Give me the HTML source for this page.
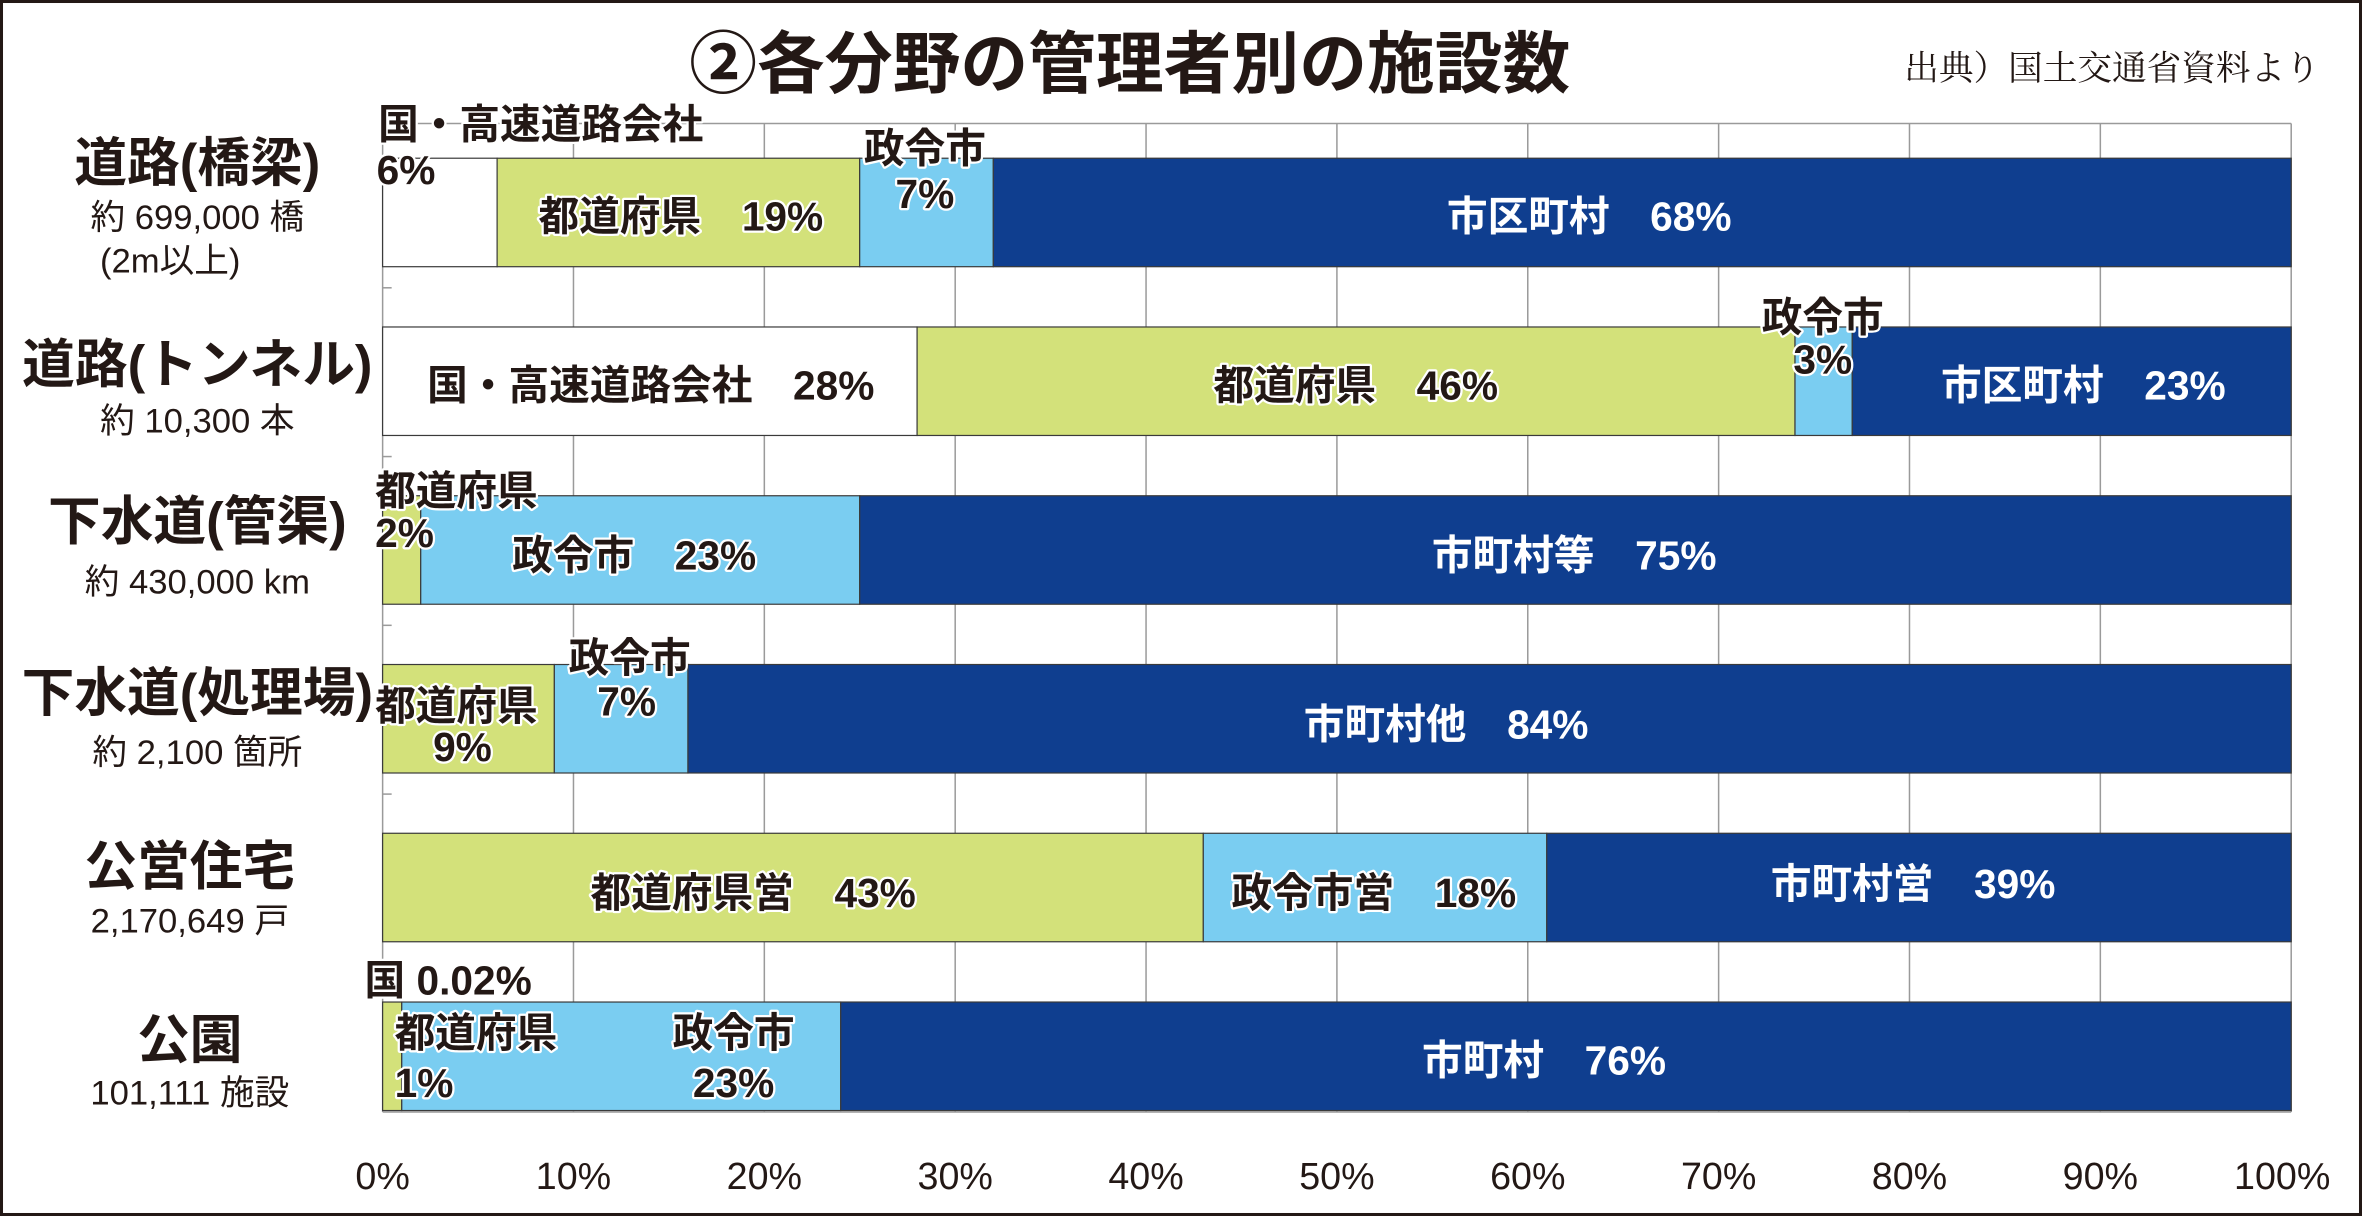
<!DOCTYPE html>
<html><head><meta charset="utf-8"><style>
html,body{margin:0;padding:0;background:#fff}
svg{display:block}
text{font-family:"Liberation Sans","Noto Sans CJK JP",sans-serif;fill:#231815}
.b{font-weight:bold}
.w{fill:#fff}
.h{stroke:#fff;stroke-width:3;paint-order:stroke;stroke-linejoin:round}
</style></head><body>
<svg width="2362" height="1216" viewBox="0 0 1568 807" preserveAspectRatio="none" xmlns="http://www.w3.org/2000/svg">
<rect x="1" y="1" width="1566" height="805" fill="#fff" stroke="#231815" stroke-width="2"/>
<text x="750" y="58" font-size="45" class="b" text-anchor="middle">②各分野の管理者別の施設数</text>
<text x="1540" y="53" font-size="23" text-anchor="end" style="font-family:'Liberation Serif','Noto Serif CJK SC',serif">出典）国土交通省資料より</text>
<g stroke="#9a9a9a" stroke-width="1">
<line x1="254" y1="82" x2="1521" y2="82"/>
<line x1="380.7" y1="82" x2="380.7" y2="738"/><line x1="507.4" y1="82" x2="507.4" y2="738"/>
<line x1="634.1" y1="82" x2="634.1" y2="738"/><line x1="760.8" y1="82" x2="760.8" y2="738"/>
<line x1="887.5" y1="82" x2="887.5" y2="738"/><line x1="1014.2" y1="82" x2="1014.2" y2="738"/>
<line x1="1140.9" y1="82" x2="1140.9" y2="738"/><line x1="1267.6" y1="82" x2="1267.6" y2="738"/>
<line x1="1394.3" y1="82" x2="1394.3" y2="738"/><line x1="1521" y1="82" x2="1521" y2="738"/>
<line x1="254" y1="738" x2="1521" y2="738"/><line x1="254" y1="82" x2="254" y2="738"/>
<line x1="254" y1="191" x2="260" y2="191"/><line x1="254" y1="303" x2="260" y2="303"/>
<line x1="254" y1="415" x2="260" y2="415"/><line x1="254" y1="527" x2="260" y2="527"/>
<line x1="254" y1="639" x2="260" y2="639"/>
</g>
<g stroke="#3a3a3a" stroke-width="0.8">
<rect x="254" y="105" width="76" height="72" fill="#fff"/>
<rect x="330" y="105" width="240.7" height="72" fill="#d3e17a"/>
<rect x="570.7" y="105" width="88.7" height="72" fill="#7acdf1"/>
<rect x="659.4" y="105" width="861.6" height="72" fill="#0f3e8f"/>

<rect x="254" y="217" width="354.8" height="72" fill="#fff"/>
<rect x="608.8" y="217" width="582.8" height="72" fill="#d3e17a"/>
<rect x="1191.6" y="217" width="38" height="72" fill="#7acdf1"/>
<rect x="1229.6" y="217" width="291.4" height="72" fill="#0f3e8f"/>

<rect x="254" y="329" width="25.3" height="72" fill="#d3e17a"/>
<rect x="279.3" y="329" width="291.4" height="72" fill="#7acdf1"/>
<rect x="570.7" y="329" width="950.3" height="72" fill="#0f3e8f"/>

<rect x="254" y="441" width="114" height="72" fill="#d3e17a"/>
<rect x="368" y="441" width="88.7" height="72" fill="#7acdf1"/>
<rect x="456.7" y="441" width="1064.3" height="72" fill="#0f3e8f"/>

<rect x="254" y="553" width="544.8" height="72" fill="#d3e17a"/>
<rect x="798.8" y="553" width="228" height="72" fill="#7acdf1"/>
<rect x="1026.8" y="553" width="494.2" height="72" fill="#0f3e8f"/>

<rect x="254" y="665" width="12.7" height="72" fill="#d3e17a"/>
<rect x="266.7" y="665" width="291.4" height="72" fill="#7acdf1"/>
<rect x="558.1" y="665" width="962.9" height="72" fill="#0f3e8f"/>
</g>
<g font-size="27" class="b">
<text x="251" y="92" class="h">国・高速道路会社</text>
<text x="250" y="122" class="h">6%</text>
<text x="452" y="153" text-anchor="middle" class="h">都道府県　19%</text>
<text x="614" y="108" text-anchor="middle" class="h">政令市</text>
<text x="614" y="138" text-anchor="middle" class="h">7%</text>
<text x="1055" y="153" text-anchor="middle" class="w">市区町村　68%</text>

<text x="432" y="265" text-anchor="middle" class="h">国・高速道路会社　28%</text>
<text x="900" y="265" text-anchor="middle" class="h">都道府県　46%</text>
<text x="1210" y="220" text-anchor="middle" class="h">政令市</text>
<text x="1210" y="248" text-anchor="middle" class="h">3%</text>
<text x="1383" y="265" text-anchor="middle" class="w">市区町村　23%</text>

<text x="249" y="335" class="h">都道府県</text>
<text x="249" y="363" class="h">2%</text>
<text x="421" y="378" text-anchor="middle" class="h">政令市　23%</text>
<text x="1045" y="378" text-anchor="middle" class="w">市町村等　75%</text>

<text x="418" y="446" text-anchor="middle" class="h">政令市</text>
<text x="416" y="475" text-anchor="middle" class="h">7%</text>
<text x="249" y="478" class="h">都道府県</text>
<text x="307" y="505" text-anchor="middle" class="h">9%</text>
<text x="960" y="490" text-anchor="middle" class="w">市町村他　84%</text>

<text x="500" y="602" text-anchor="middle" class="h">都道府県営　43%</text>
<text x="912" y="602" text-anchor="middle" class="h">政令市営　18%</text>
<text x="1270" y="596" text-anchor="middle" class="w">市町村営　39%</text>

<text x="242" y="660" class="h">国 0.02%</text>
<text x="262" y="695" class="h">都道府県</text>
<text x="262" y="728" class="h">1%</text>
<text x="487" y="695" text-anchor="middle" class="h">政令市</text>
<text x="487" y="728" text-anchor="middle" class="h">23%</text>
<text x="1025" y="713" text-anchor="middle" class="w">市町村　76%</text>
</g>
<g text-anchor="middle">
<text x="131" y="120" font-size="35" class="b">道路(橋梁)</text>
<text x="131" y="152" font-size="23">約 699,000 橋</text>
<text x="113" y="181" font-size="23">(2m以上)</text>
<text x="131" y="254" font-size="35" class="b">道路(トンネル)</text>
<text x="131" y="287" font-size="23">約 10,300 本</text>
<text x="131" y="358" font-size="35" class="b">下水道(管渠)</text>
<text x="131" y="394" font-size="23">約 430,000 km</text>
<text x="131" y="472" font-size="35" class="b">下水道(処理場)</text>
<text x="131" y="507" font-size="23">約 2,100 箇所</text>
<text x="126" y="587" font-size="35" class="b">公営住宅</text>
<text x="126" y="619" font-size="23">2,170,649 戸</text>
<text x="126" y="702" font-size="35" class="b">公園</text>
<text x="126" y="733" font-size="23">101,111 施設</text>
</g>
<g font-size="25" text-anchor="middle">
<text x="254" y="789">0%</text><text x="380.7" y="789">10%</text><text x="507.4" y="789">20%</text>
<text x="634.1" y="789">30%</text><text x="760.8" y="789">40%</text><text x="887.5" y="789">50%</text>
<text x="1014.2" y="789">60%</text><text x="1140.9" y="789">70%</text><text x="1267.6" y="789">80%</text>
<text x="1394.3" y="789">90%</text><text x="1515" y="789">100%</text>
</g>
</svg>
</body></html>
